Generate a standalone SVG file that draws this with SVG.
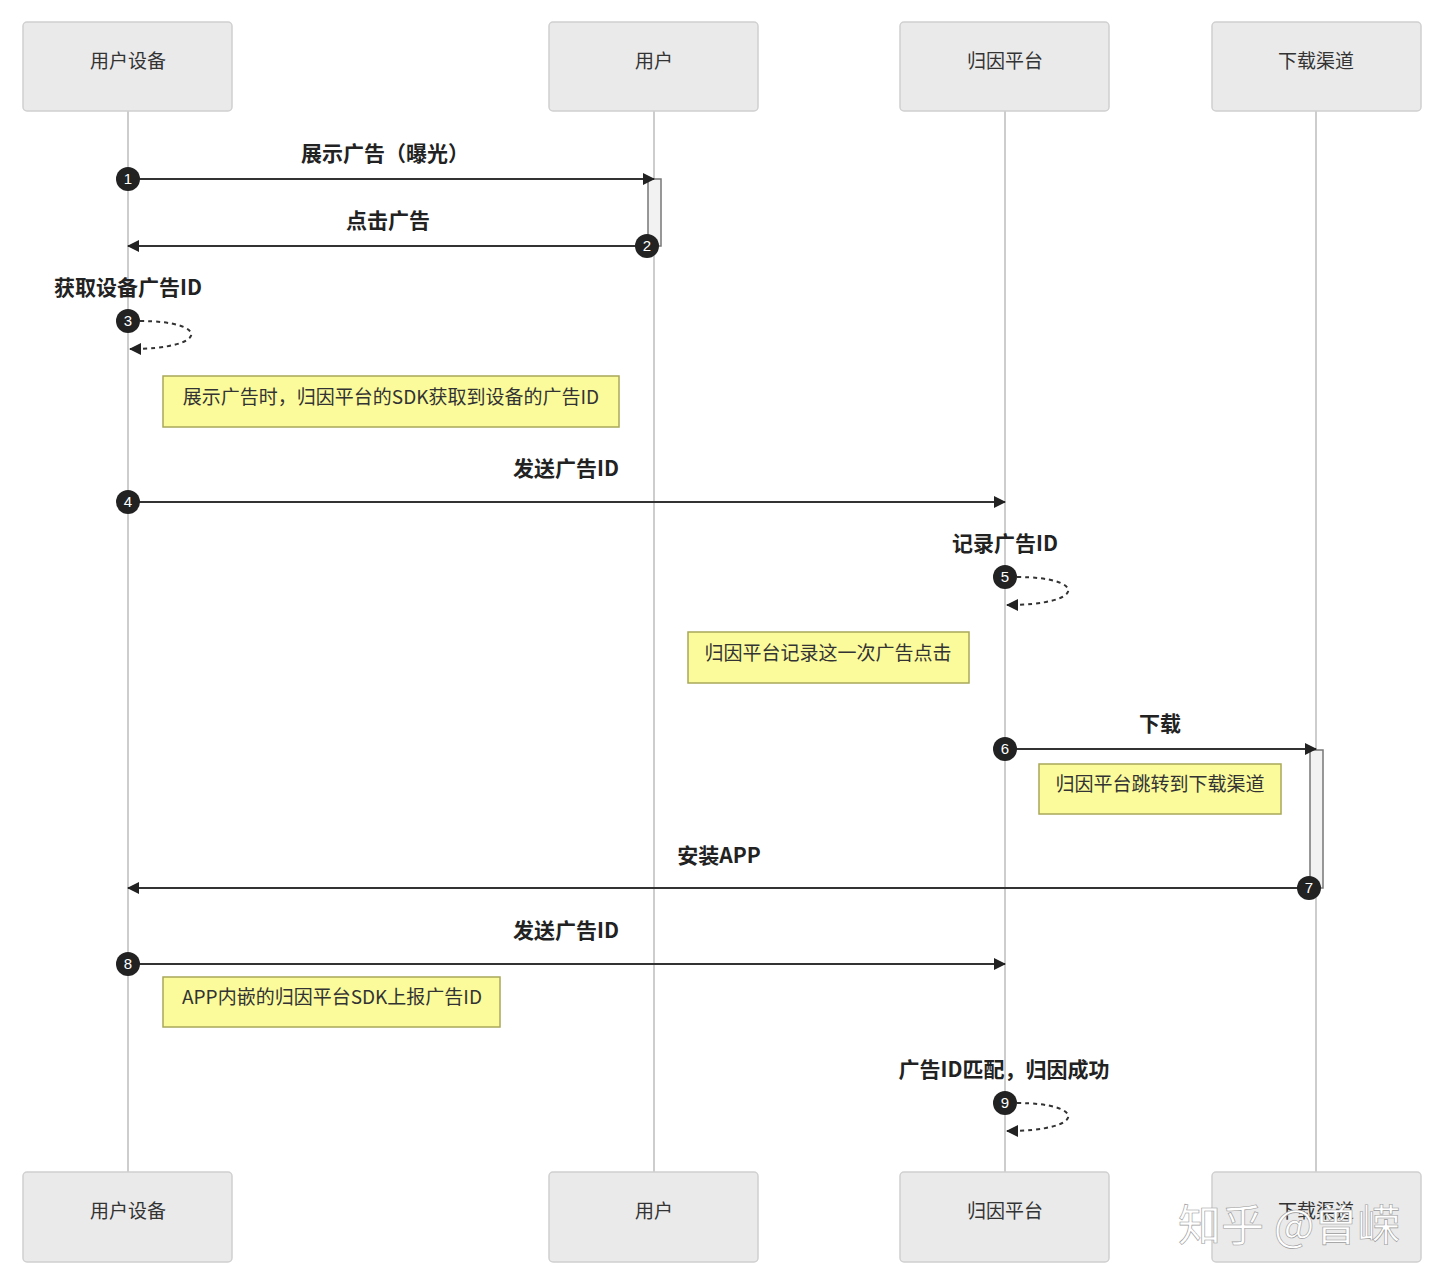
<svg xmlns="http://www.w3.org/2000/svg" width="1440" height="1283" viewBox="0 0 1440 1283">
  <style>
    .actor rect { fill: #eaeaea; stroke: #d0d0d0; stroke-width: 1.5; }
    .actor text { font-family: "Noto Sans CJK SC", "Liberation Sans", sans-serif; font-size: 19px; fill: #333; text-anchor: middle; }
    .life { stroke: #bdbdbd; stroke-width: 1.5; }
    .msg { stroke: #333; stroke-width: 2; fill: none; }
    .self { stroke: #333; stroke-width: 2; fill: none; stroke-dasharray: 4 4; }
    .lbl { font-family: "Noto Sans CJK SC", "Liberation Sans", sans-serif; font-size: 21px; font-weight: bold; fill: #222; text-anchor: middle; }
    .num circle { fill: #222; }
    .num text { font-family: "Liberation Sans", sans-serif; font-size: 15px; fill: #fff; text-anchor: middle; }
    .act { fill: #f2f2f2; stroke: #777; stroke-width: 1.5; }
    .note rect { fill: #fbfb9c; stroke: #a8a85a; stroke-width: 1.5; }
    .note text { font-family: "Noto Sans CJK SC", "Liberation Sans", sans-serif; font-size: 19px; fill: #333; text-anchor: middle; }
    .wm { font-family: "Noto Sans CJK SC", sans-serif; font-size: 43px; fill: #fff; stroke: #9a9a9a; stroke-width: 0.6; }
  </style>
  <defs>
    <marker id="arrow" viewBox="0 0 12 12" refX="11" refY="6" markerWidth="12" markerHeight="12" markerUnits="userSpaceOnUse" orient="auto">
      <path d="M0,0 L12,6 L0,12 Z" fill="#222"/>
    </marker>
  </defs>
  <rect width="1440" height="1283" fill="#fff"/>

  <!-- lifelines -->
  <g id="lifelines">
    <line class="life" x1="128" y1="111" x2="128" y2="1172"/>
    <line class="life" x1="654" y1="111" x2="654" y2="1172"/>
    <line class="life" x1="1005" y1="111" x2="1005" y2="1172"/>
    <line class="life" x1="1316" y1="111" x2="1316" y2="1172"/>
  </g>

  <!-- participants, top and bottom -->
  <g id="device-top" class="actor"><rect x="23" y="22" width="209" height="89" rx="4"/><text x="128" y="68">用户设备</text></g>
  <g id="user-top" class="actor"><rect x="549" y="22" width="209" height="89" rx="4"/><text x="654" y="68">用户</text></g>
  <g id="platform-top" class="actor"><rect x="900" y="22" width="209" height="89" rx="4"/><text x="1005" y="68">归因平台</text></g>
  <g id="channel-top" class="actor"><rect x="1212" y="22" width="209" height="89" rx="4"/><text x="1316" y="68">下载渠道</text></g>
  <g id="device-bottom" class="actor"><rect x="23" y="1172" width="209" height="90" rx="4"/><text x="128" y="1218">用户设备</text></g>
  <g id="user-bottom" class="actor"><rect x="549" y="1172" width="209" height="90" rx="4"/><text x="654" y="1218">用户</text></g>
  <g id="platform-bottom" class="actor"><rect x="900" y="1172" width="209" height="90" rx="4"/><text x="1005" y="1218">归因平台</text></g>
  <g id="channel-bottom" class="actor"><rect x="1212" y="1172" width="209" height="90" rx="4"/><text x="1316" y="1218">下载渠道</text></g>

  <!-- activation bars -->
  <g id="activations">
    <rect class="act" x="648" y="179" width="13" height="67"/>
    <rect class="act" x="1310" y="750" width="13" height="138"/>
  </g>

  <!-- notes -->
  <g id="note-sdk" class="note"><rect x="163" y="376" width="456" height="51"/><text x="391" y="404">展示广告时，归因平台的SDK获取到设备的广告ID</text></g>
  <g id="note-record" class="note"><rect x="688" y="632" width="281" height="51"/><text x="828" y="660">归因平台记录这一次广告点击</text></g>
  <g id="note-jump" class="note"><rect x="1039" y="764" width="242" height="50"/><text x="1160" y="791">归因平台跳转到下载渠道</text></g>
  <g id="note-report" class="note"><rect x="163" y="977" width="337" height="50"/><text x="332" y="1004">APP内嵌的归因平台SDK上报广告ID</text></g>

  <!-- messages -->
  <g id="connectors">
    <line class="msg" x1="128" y1="179" x2="654" y2="179" marker-end="url(#arrow)"/>
    <line class="msg" x1="648" y1="246" x2="128" y2="246" marker-end="url(#arrow)"/>
    <path class="self" d="M140,321 C210,321 210,349 130,349" marker-end="url(#arrow)"/>
    <line class="msg" x1="128" y1="502" x2="1005" y2="502" marker-end="url(#arrow)"/>
    <path class="self" d="M1017,577 C1087,577 1087,605 1007,605" marker-end="url(#arrow)"/>
    <line class="msg" x1="1005" y1="749" x2="1316" y2="749" marker-end="url(#arrow)"/>
    <line class="msg" x1="1310" y1="888" x2="128" y2="888" marker-end="url(#arrow)"/>
    <line class="msg" x1="128" y1="964" x2="1005" y2="964" marker-end="url(#arrow)"/>
    <path class="self" d="M1017,1103 C1087,1103 1087,1131 1007,1131" marker-end="url(#arrow)"/>
  </g>

  <!-- message labels -->
  <g id="labels">
    <text class="lbl" x="385" y="161">展示广告（曝光）</text>
    <text class="lbl" x="388" y="228">点击广告</text>
    <text class="lbl" x="128" y="295">获取设备广告ID</text>
    <text class="lbl" x="566" y="476">发送广告ID</text>
    <text class="lbl" x="1005" y="551">记录广告ID</text>
    <text class="lbl" x="1160" y="731">下载</text>
    <text class="lbl" x="719" y="863">安装APP</text>
    <text class="lbl" x="566" y="938">发送广告ID</text>
    <text class="lbl" x="1004" y="1077">广告ID匹配，归因成功</text>
  </g>

  <!-- step numbers -->
  <g id="steps" class="num">
    <circle cx="128" cy="179" r="12"/><text x="128" y="184">1</text>
    <circle cx="647" cy="246" r="12"/><text x="647" y="251">2</text>
    <circle cx="128" cy="321" r="12"/><text x="128" y="326">3</text>
    <circle cx="128" cy="502" r="12"/><text x="128" y="507">4</text>
    <circle cx="1005" cy="577" r="12"/><text x="1005" y="582">5</text>
    <circle cx="1005" cy="749" r="12"/><text x="1005" y="754">6</text>
    <circle cx="1309" cy="888" r="12"/><text x="1309" y="893">7</text>
    <circle cx="128" cy="964" r="12"/><text x="128" y="969">8</text>
    <circle cx="1005" cy="1103" r="12"/><text x="1005" y="1108">9</text>
  </g>

  <!-- site watermark -->
  <g id="watermark">
    <text class="wm" x="1178" y="1241">知乎 @曾嵘</text>
  </g>
</svg>
